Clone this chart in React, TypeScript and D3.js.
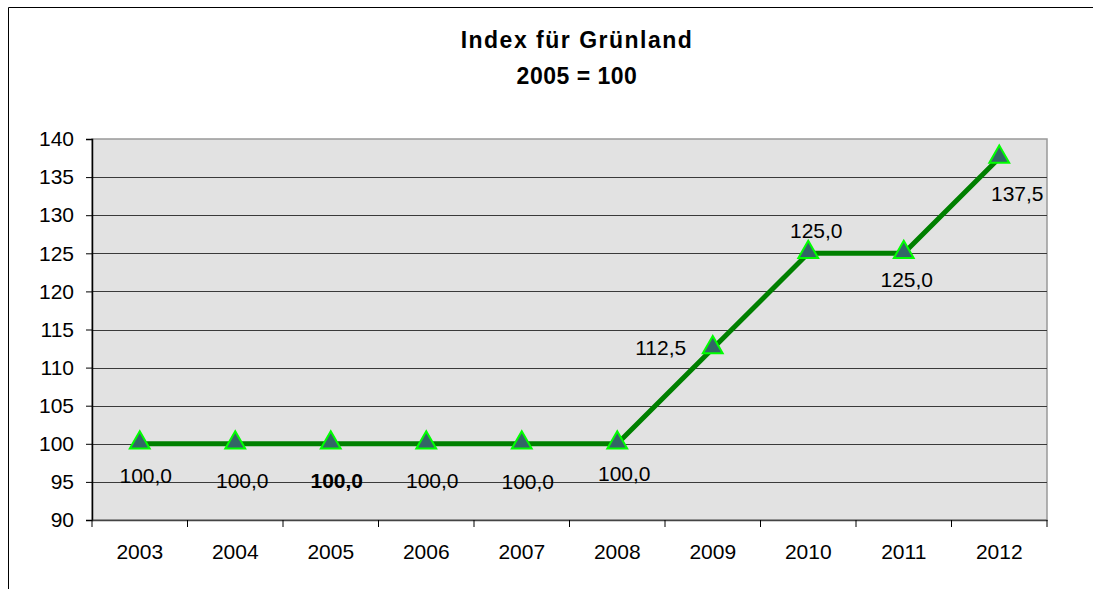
import React, { useEffect, useRef } from 'react';
import * as d3 from 'd3';

const years = ['2003', '2004', '2005', '2006', '2007', '2008', '2009', '2010', '2011', '2012'];
const indexValues = [100, 100, 100, 100, 100, 100, 112.5, 125, 125, 137.5];
const yTicks = [90, 95, 100, 105, 110, 115, 120, 125, 130, 135, 140];
// label placement per point (dx, dy relative to the marker), as Excel placed them
const labelDx = [6, 7, 6, 6, 6, 7, -52, 8, 3, 18];
const labelDy = [39, 44, 44, 44, 45, 37, 6, -15, 34, 43];
const boldLabel = [false, false, true, false, false, false, false, false, false, false];

export default function App() {
  const ref = useRef<SVGSVGElement>(null);

  useEffect(() => {
    const width = 1093;
    const height = 589;
    const margin = { top: 139, right: 46, bottom: 69, left: 92 };
    const font = '"Liberation Sans", Arial, sans-serif';

    const svg = d3.select(ref.current).html('')
      .attr('width', width)
      .attr('height', height)
      .style('font-family', font);

    // chart frame: only its top and left edges fall inside the picture
    svg.append('path')
      .attr('d', `M8.5,${height}V7.5H${width}`)
      .attr('fill', 'none').attr('stroke', '#000').attr('stroke-width', 1);

    const x = d3.scaleBand()
      .domain(years)
      .range([margin.left, width - margin.right]);

    const y = d3.scaleLinear()
      .domain([90, 140])
      .range([height - margin.bottom, margin.top]);

    svg.append('rect')
      .attr('x', margin.left).attr('y', margin.top)
      .attr('width', width - margin.left - margin.right)
      .attr('height', height - margin.top - margin.bottom)
      .attr('fill', '#e2e2e2')
      .attr('stroke', '#999')
      .attr('stroke-width', 1.5);

    svg.append('g')
      .selectAll('line')
      .data(yTicks.slice(1, -1))
      .join('line')
      .attr('x1', margin.left).attr('x2', width - margin.right)
      .attr('y1', (d) => Math.round(y(d)) + 0.5).attr('y2', (d) => Math.round(y(d)) + 0.5)
      .attr('stroke', '#3a3a3a').attr('stroke-width', 1);

    const yAxis = svg.append('g')
      .attr('transform', `translate(${margin.left},0)`)
      .call(d3.axisLeft(y).tickValues(yTicks).tickSize(6).tickPadding(12));
    yAxis.selectAll('text').attr('font-size', 21).attr('fill', '#000').attr('font-family', font);
    yAxis.selectAll('line').attr('stroke', '#000');
    yAxis.select('.domain').attr('stroke', '#000').attr('stroke-width', 1.5);

    const xAxis = svg.append('g')
      .attr('transform', `translate(0,${height - margin.bottom})`)
      .call(d3.axisBottom(x).tickSize(0).tickPadding(24));
    xAxis.select('.domain').attr('stroke', '#444').attr('stroke-width', 1.5);
    xAxis.selectAll('text').attr('font-size', 21).attr('fill', '#000').attr('font-family', font);

    const bounds = years.map((yr) => x(yr) as number).concat([width - margin.right]);
    svg.append('g')
      .selectAll('line')
      .data(bounds)
      .join('line')
      .attr('x1', (d) => d).attr('x2', (d) => d)
      .attr('y1', height - margin.bottom).attr('y2', height - margin.bottom + 7)
      .attr('stroke', '#000');

    const cx = (i: number) => (x(years[i]) as number) + x.bandwidth() / 2;

    const line = d3.line<number>()
      .x((_, i) => cx(i))
      .y((d) => y(d));

    svg.append('path')
      .datum(indexValues)
      .attr('d', line)
      .attr('fill', 'none')
      .attr('stroke', '#008000')
      .attr('stroke-width', 5);

    const tri = d3.symbol().type(d3.symbolTriangle).size(170);
    svg.append('g')
      .selectAll('path')
      .data(indexValues)
      .join('path')
      .attr('d', tri)
      .attr('transform', (d, i) => `translate(${cx(i)},${y(d) - 1})`)
      .attr('fill', '#336666')
      .attr('stroke', '#00ff00')
      .attr('stroke-width', 2);

    svg.append('g')
      .selectAll('text')
      .data(indexValues)
      .join('text')
      .attr('x', (d, i) => cx(i) + labelDx[i])
      .attr('y', (d, i) => y(d) + labelDy[i])
      .attr('text-anchor', 'middle')
      .attr('font-size', 21)
      .attr('font-weight', (d, i) => (boldLabel[i] ? 'bold' : 'normal'))
      .attr('fill', '#000')
      .text((d) => d.toFixed(1).replace('.', ','));

    const title = svg.append('text')
      .attr('text-anchor', 'middle')
      .attr('font-size', 23)
      .attr('font-weight', 'bold');
    title.append('tspan').attr('x', 577).attr('y', 48)
      .attr('letter-spacing', 1.5).text('Index für Grünland');
    title.append('tspan').attr('x', 577).attr('y', 84)
      .attr('letter-spacing', 0.5).text('2005 = 100');
  }, []);

  return <svg ref={ref} style={{ position: 'absolute', left: 0, top: 0, display: 'block' }}></svg>;
}
